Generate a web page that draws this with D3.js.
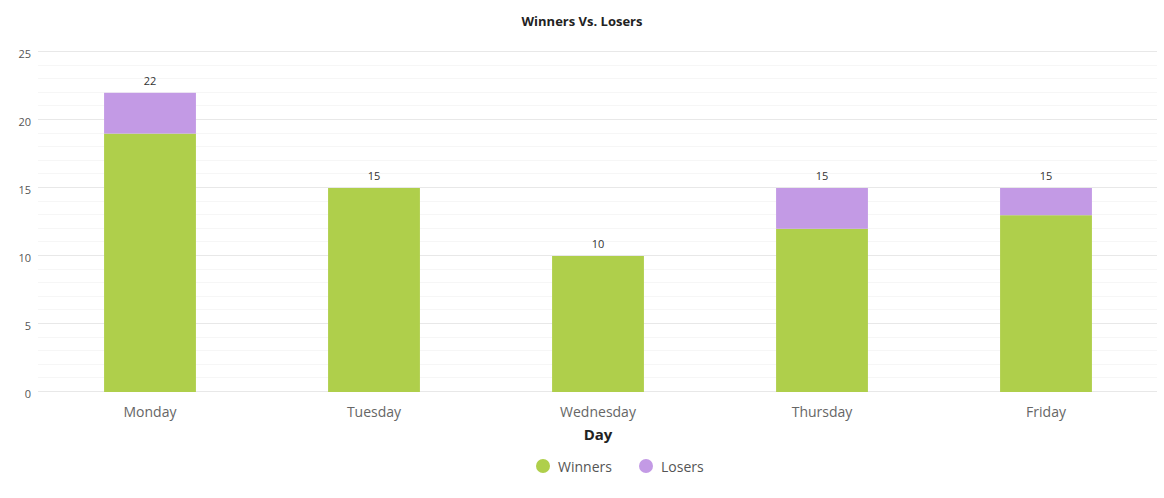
<!DOCTYPE html>
<html>
<head>
<meta charset="utf-8">
<script src="https://cdn.jsdelivr.net/npm/d3@7"></script>
<style>
  body { margin: 0; background: #fff; font-family: "Open Sans", sans-serif; }
</style>
</head>
<body>
<div id="chart"></div>
<script>
// chart data
var days = ["Monday", "Tuesday", "Wednesday", "Thursday", "Friday"];
var winners = [19, 15, 10, 12, 13];
var losers = [3, 0, 0, 3, 2];
var seriesNames = ["Winners", "Losers"];
var seriesColors = ["#afcf4b", "#c39ae5"];
var yTicks = [0, 5, 10, 15, 20, 25];

var width = 1164, height = 498;
var plotLeft = 38, plotRight = 1158, plotTop = 52, plotBottom = 392;

var svg = d3.select("#chart").append("svg")
    .attr("width", width)
    .attr("height", height);

var x = d3.scaleBand().domain(days).range([plotLeft, plotRight]).padding(0);
var y = d3.scaleLinear().domain([0, 25]).range([plotBottom, plotTop]);
var barW = x.bandwidth() * 0.41;

// minor grid every 1
svg.append("g").selectAll("line")
  .data(d3.range(0, 26).filter(function(v){ return v % 5 != 0; }))
  .enter().append("line")
    .attr("x1", plotLeft).attr("x2", plotRight - 1)
    .attr("y1", function(d){ return Math.round(y(d)) - 0.5; })
    .attr("y2", function(d){ return Math.round(y(d)) - 0.5; })
    .attr("stroke", "#f6f6f6");

// major grid
svg.append("g").selectAll("line")
  .data(yTicks)
  .enter().append("line")
    .attr("x1", plotLeft).attr("x2", plotRight - 1)
    .attr("y1", function(d){ return Math.round(y(d)) - 0.5; })
    .attr("y2", function(d){ return Math.round(y(d)) - 0.5; })
    .attr("stroke", "#e8e8e8");

svg.append("g").selectAll("text")
  .data(yTicks)
  .enter().append("text")
    .attr("x", 31)
    .attr("y", function(d){ return y(d) + 6; })
    .attr("text-anchor", "end")
    .attr("font-size", "11px")
    .attr("fill", "#555")
    .text(function(d){ return d; });

// stacked bars
var rows = days.map(function(d, i){ return {day: d, Winners: winners[i], Losers: losers[i]}; });
var stacked = d3.stack().keys(seriesNames)(rows);

svg.append("g").selectAll("g")
  .data(stacked)
  .enter().append("g")
    .attr("fill", function(d, i){ return seriesColors[i]; })
  .selectAll("rect")
  .data(function(d){ return d; })
  .enter().append("rect")
    .attr("x", function(d){ return x(d.data.day) + (x.bandwidth() - barW) / 2; })
    .attr("width", barW)
    .attr("y", function(d){ return y(d[1]); })
    .attr("height", function(d){ return y(d[0]) - y(d[1]); });

// totals
svg.append("g").selectAll("text")
  .data(rows)
  .enter().append("text")
    .attr("x", function(d){ return x(d.day) + x.bandwidth() / 2; })
    .attr("y", function(d){ return y(d.Winners + d.Losers) - 8; })
    .attr("text-anchor", "middle")
    .attr("font-size", "11px")
    .attr("fill", "#333")
    .text(function(d){ return d.Winners + d.Losers; });

// x labels
svg.append("g").selectAll("text")
  .data(days)
  .enter().append("text")
    .attr("x", function(d){ return x(d) + x.bandwidth() / 2; })
    .attr("y", 417)
    .attr("text-anchor", "middle")
    .attr("font-size", "14px")
    .attr("fill", "#666")
    .text(function(d){ return d; });

svg.append("text")
  .attr("x", 598).attr("y", 440)
  .attr("text-anchor", "middle")
  .attr("font-size", "15px")
  .attr("font-weight", "bold")
  .attr("fill", "#222")
  .text("Day");

svg.append("text")
  .attr("x", 582).attr("y", 26)
  .attr("text-anchor", "middle")
  .attr("font-size", "13px")
  .attr("font-weight", "bold")
  .attr("fill", "#222")
  .text("Winners Vs. Losers");

// legend
var legendX = [543, 646];
var leg = svg.append("g").selectAll("g")
  .data(seriesNames)
  .enter().append("g")
    .attr("transform", function(d, i){ return "translate(" + legendX[i] + ",466)"; });
leg.append("circle")
  .attr("r", 7)
  .attr("fill", function(d, i){ return seriesColors[i]; });
leg.append("text")
  .attr("x", 15).attr("y", 6)
  .attr("font-size", "14px")
  .attr("fill", "#555")
  .text(function(d){ return d; });
</script>
</body>
</html>
